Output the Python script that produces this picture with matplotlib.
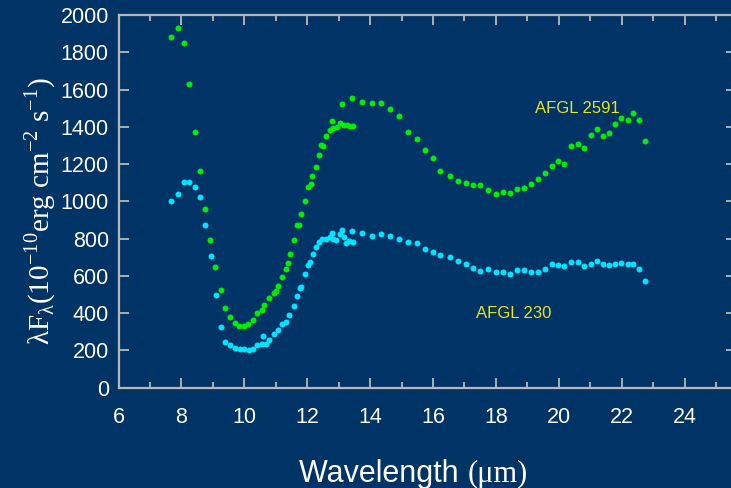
import numpy as np
import matplotlib
matplotlib.use("Agg")
import matplotlib.pyplot as plt
from matplotlib.ticker import MultipleLocator

# AFGL 2591 spectrum (green)
wl_2591 = [7.68, 7.88, 8.07, 8.24, 8.42, 8.59, 8.76, 8.92, 9.08, 9.25, 9.40, 9.56,
           9.70, 9.83, 9.98, 10.13, 10.28, 10.40, 10.55, 10.63, 10.80, 10.93, 11.02,
           11.08, 11.20, 11.32, 11.38, 11.45, 11.57, 11.67, 11.75, 11.80, 11.93, 12.04,
           12.11, 12.16, 12.28, 12.38, 12.44, 12.51, 12.61, 12.71, 12.79, 12.83, 12.94,
           13.03, 13.11, 13.16, 13.26, 13.37, 13.47, 13.43, 13.73, 14.05, 14.34, 14.62,
           14.92, 15.19, 15.48, 15.75, 16.00, 16.23, 16.53, 16.78, 17.04, 17.28, 17.51,
           17.76, 17.99, 18.22, 18.46, 18.68, 18.90, 19.12, 19.34, 19.56, 19.78, 19.99,
           20.18, 20.40, 20.61, 20.81, 21.01, 21.21, 21.40, 21.61, 21.80, 21.99, 22.19,
           22.37, 22.56, 22.74]
flux_2591 = [1882, 1929, 1847, 1627, 1371, 1164, 961, 791, 649, 524, 428, 376,
             346, 332, 332, 342, 365, 399, 417, 445, 479, 506, 520,
             547, 595, 636, 667, 718, 790, 872, 872, 932, 1002, 1076,
             1091, 1134, 1185, 1249, 1301, 1294, 1351, 1381, 1430, 1392, 1401,
             1422, 1522, 1412, 1410, 1406, 1403, 1552, 1535, 1529, 1529, 1496,
             1456, 1374, 1333, 1273, 1231, 1165, 1137, 1109, 1096, 1089, 1089,
             1062, 1039, 1050, 1046, 1068, 1070, 1091, 1119, 1151, 1187, 1214,
             1201, 1297, 1308, 1285, 1358, 1388, 1349, 1369, 1413, 1445, 1435,
             1476, 1437, 1321]

# AFGL 230 spectrum (cyan)
wl_230 = [7.68, 7.88, 8.07, 8.24, 8.42, 8.59, 8.76, 8.93, 9.09, 9.25, 9.40, 9.56,
          9.70, 9.85, 10.00, 10.15, 10.28, 10.40, 10.55, 10.61, 10.68, 10.80, 10.93,
          11.06, 11.21, 11.33, 11.42, 11.57, 11.69, 11.76, 11.80, 11.94, 12.03, 12.10,
          12.17, 12.27, 12.38, 12.48, 12.60, 12.71, 12.79, 12.83, 12.93, 13.03, 13.10,
          13.16, 13.24, 13.34, 13.43, 13.47, 13.75, 14.05, 14.35, 14.63, 14.92, 15.21,
          15.48, 15.73, 16.00, 16.23, 16.53, 16.78, 17.04, 17.28, 17.51, 17.76, 17.99,
          18.22, 18.46, 18.68, 18.90, 19.12, 19.34, 19.56, 19.78, 19.99, 20.18, 20.40,
          20.61, 20.81, 21.01, 21.21, 21.40, 21.61, 21.80, 21.99, 22.19, 22.37, 22.56,
          22.74]
flux_230 = [1000, 1039, 1102, 1102, 1075, 1023, 873, 704, 494, 324, 246, 226,
            214, 207, 207, 203, 207, 226, 234, 274, 234, 255, 289,
            310, 339, 353, 390, 439, 490, 533, 542, 610, 659, 674,
            717, 756, 781, 795, 800, 806, 829, 800, 791, 822, 848,
            809, 777, 786, 840, 782, 827, 815, 822, 815, 798, 779,
            774, 743, 729, 712, 702, 677, 663, 640, 627, 638, 622,
            618, 611, 633, 631, 622, 620, 636, 661, 656, 654, 675,
            675, 650, 663, 681, 663, 656, 665, 668, 663, 663, 636,
            574]

bg = '#003366'
spine_c = '#b8b8b8'

fig = plt.figure(figsize=(7.31, 4.88), dpi=100, facecolor=bg)
ax = fig.add_axes([118.5 / 731, 1 - 387.5 / 488, 0.845, (387.5 - 15) / 488])
ax.set_facecolor(bg)

ax.plot(wl_2591, flux_2591, 'o', color='#00ee00', ms=4.3, mec='none')
ax.plot(wl_230, flux_230, 'o', color='#00e5ff', ms=4.3, mec='none')

ax.set_xlim(6, 6 + 0.845 * 731 / 31.45)
ax.set_ylim(0, 2000)
ax.xaxis.set_major_locator(MultipleLocator(2))
ax.xaxis.set_minor_locator(MultipleLocator(1))
ax.yaxis.set_major_locator(MultipleLocator(200))

for s in ax.spines.values():
    s.set_color(spine_c)
    s.set_linewidth(1.6)
ax.tick_params(which='both', direction='in', top=True, right=True, color=spine_c,
               labelcolor='white', labelsize=15.5, width=1.3)
ax.tick_params(which='major', length=7)
ax.tick_params(which='minor', length=4)
ax.tick_params(axis='x', pad=14)
ax.tick_params(axis='y', pad=7)
for lab in ax.get_xticklabels() + ax.get_yticklabels():
    lab.set_family('Liberation Sans')

ax.text(20.58, 1500, 'AFGL 2591', color='#e6e619', fontsize=12,
        family='Liberation Sans', ha='center', va='center')
ax.text(18.58, 395, 'AFGL 230', color='#e6e619', fontsize=12,
        family='Liberation Sans', ha='center', va='center')

fig.text(40 / 731, 1 - 211 / 488,
         r'λF$_\mathregular{λ}$(10$^\mathregular{-10}$erg cm$^\mathregular{-2}$ s$^\mathregular{-1}$)',
         color='white', fontsize=21, family='Liberation Serif',
         rotation=90, ha='center', va='center')

fig.text(467 / 731, 1 - 482 / 488, 'Wavelength ', color='white', fontsize=22,
         family='Liberation Sans', ha='right', va='baseline')
fig.text(468 / 731, 1 - 482 / 488, '(μm)', color='white', fontsize=22,
         family='Liberation Serif', ha='left', va='baseline')

fig.savefig('out.png', dpi=100, facecolor=bg)
